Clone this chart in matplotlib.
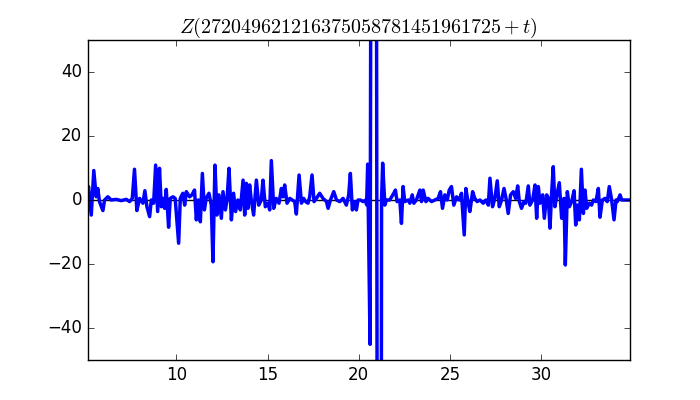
import matplotlib
matplotlib.use('Agg')
import matplotlib.pyplot as plt

# Values (t, Z)
t = [5.13, 5.19, 5.34, 5.48, 5.61, 5.70, 5.79, 5.98, 6.07, 6.25, 6.43, 6.71, 6.98, 7.26,
     7.44, 7.59, 7.71, 7.84, 7.99, 8.17, 8.28, 8.39, 8.54, 8.63, 8.76, 8.87, 8.98, 9.08,
     9.18, 9.27, 9.36, 9.45, 9.58, 9.67, 9.82, 9.94, 10.13, 10.22, 10.36, 10.46, 10.55,
     10.73, 10.86, 11.00, 11.10, 11.21, 11.32, 11.43, 11.54, 11.64, 11.79, 11.92, 12.01,
     12.12, 12.23, 12.34, 12.47, 12.56, 12.69, 12.78, 12.89, 13.02, 13.14, 13.25, 13.38,
     13.51, 13.66, 13.75, 13.84, 13.93, 14.02, 14.11, 14.24, 14.39, 14.52, 14.66, 14.75,
     14.88, 15.03, 15.12, 15.21, 15.34, 15.48, 15.63, 15.76, 15.85, 15.94, 16.07, 16.22,
     16.36, 16.49, 16.58, 16.73, 16.86, 16.98, 17.09, 17.22, 17.31, 17.44, 17.55, 17.68,
     17.86, 18.04, 18.23, 18.32, 18.45, 18.63, 18.78, 18.96, 19.14, 19.32, 19.45, 19.54,
     19.65, 19.76, 19.87, 19.96, 20.09, 20.24, 20.38, 20.43, 20.49, 20.62, 20.84, 21.14,
     21.25, 21.31, 21.43, 21.52, 21.70, 21.92, 22.01, 22.10, 22.25, 22.34, 22.43, 22.52,
     22.71, 22.80, 22.93, 23.02, 23.16, 23.35, 23.44, 23.53, 23.68, 23.80, 23.99, 24.17,
     24.35, 24.48, 24.59, 24.72, 24.85, 24.96, 25.08, 25.21, 25.36, 25.51, 25.63, 25.69,
     25.78, 25.87, 26.00, 26.09, 26.24, 26.36, 26.49, 26.64, 26.82, 26.97, 27.10, 27.19,
     27.33, 27.46, 27.59, 27.70, 27.83, 27.96, 28.07, 28.19, 28.32, 28.47, 28.60, 28.71,
     28.80, 28.92, 29.05, 29.16, 29.29, 29.38, 29.53, 29.66, 29.75, 29.84, 29.93, 30.08,
     30.17, 30.30, 30.39, 30.48, 30.57, 30.66, 30.75, 30.84, 30.99, 31.12, 31.25, 31.32,
     31.43, 31.54, 31.67, 31.80, 31.89, 31.98, 32.09, 32.20, 32.31, 32.40, 32.49, 32.64,
     32.76, 32.86, 33.00, 33.13, 33.22, 33.35, 33.50, 33.62, 33.73, 33.86, 33.99, 34.10,
     34.17, 34.32, 34.41, 34.59, 34.87]
z = [1.0, 4.2, -4.7, 9.2, 1.0, 3.6, -0.5, -3.3, 0.0, 1.0, 0.0, 0.2, -0.2, 0.2,
     -0.5, 0.5, 9.6, -3.3, 0.5, -1.0, 2.9, -2.1, -5.2, 0.0, -1.0, 10.9, -3.6, 9.9,
     -2.1, 0.5, -2.6, 3.3, -8.5, 0.5, 1.0, 0.5, -13.5, 0.5, 2.1, -1.6, 2.6,
     1.0, 1.6, 3.1, -6.2, 0.0, -6.8, 8.3, -3.1, 0.5, 2.1, -1.6, -19.3,
     10.9, -4.7, 1.6, -5.7, 2.6, -3.1, 0.0, 9.9, -6.2, 2.1, -3.6, 0.0,
     -3.1, 6.2, -4.7, 5.2, -2.6, 4.7, 0.0, -4.7, 6.2, -1.6, 0.0, 6.2,
     -2.1, -1.0, -3.1, 12.3, -2.6, 0.5, -1.0, 3.6, 1.0, 4.7, -1.0, 0.5,
     0.0, -0.5, -4.4, 7.8, -1.0, 0.5, -0.5, -1.0, 1.0, 7.8, -0.5, 0.5,
     2.1, 0.5, -0.5, -2.6, 0.0, 2.6, 0.0, -0.5, 0.5, -1.6, 1.6, 8.3,
     -3.1, -0.5, -3.1, 0.0, 0.0, -0.5, 0.0, -1.5, 11.2, -45.1, 600.0, -600.0,
     0.0, 11.5, -1.6, 0.0, 0.0, 2.1, 3.1, -0.5, 0.0, -7.3, 4.2, -0.5,
     0.0, -1.0, 1.6, -1.0, 0.0, 3.1, -0.5, 3.1, -0.5, 0.5, -0.5, 0.0,
     0.5, 2.6, -2.6, 1.6, 0.0, 3.1, 4.2, -1.6, 1.0, 0.0, 2.1, -3.1,
     -10.9, 3.6, -1.0, -3.6, 2.6, 0.5, -0.5, 0.0, -1.0, 0.0, -1.6, 6.8,
     -2.1, 0.5, 6.0, -2.1, 0.0, 3.6, 0.5, -4.2, 1.6, 2.6, 0.5, 4.4,
     -0.5, -2.6, -0.5, -1.0, 4.4, -1.6, 0.0, 4.7, -5.7, 4.2, -1.0, 1.6,
     -5.7, 1.6, 0.5, -8.8, 2.1, 10.4, -2.1, 1.0, 5.4, -5.7, 0.5, -20.3,
     2.6, -2.1, -0.5, 2.9, -7.8, -1.6, -6.2, 9.6, -4.2, 3.1, -2.6, -1.0,
     -1.6, 0.0, -0.5, 3.6, -5.4, 0.0, 0.5, -0.5, 4.2, 0.0, -6.2, 0.0,
     -0.5, 1.6, 0.0, 0.0, 0.0]

title = r'$Z(272049621216375058781451961725+t)$'
x_ticks = [10, 15, 20, 25, 30]
y_ticks = [-40, -20, 0, 20, 40]

plt.style.use('classic')
plt.rcParams['mathtext.fontset'] = 'cm'

fig = plt.figure(figsize=(7, 4), dpi=100, facecolor='white')
ax = fig.add_subplot(111)
ax.axhline(0, color='k', linewidth=1)
ax.plot(t, z, color='b', linewidth=2.5)

ax.set_xlim(5.135, 34.865)
ax.set_ylim(-50, 50)
ax.set_xticks(x_ticks)
ax.set_yticks(y_ticks)
ax.set_title(title, fontsize=14.4)

fig.savefig('out.png', dpi=100, facecolor='white')
